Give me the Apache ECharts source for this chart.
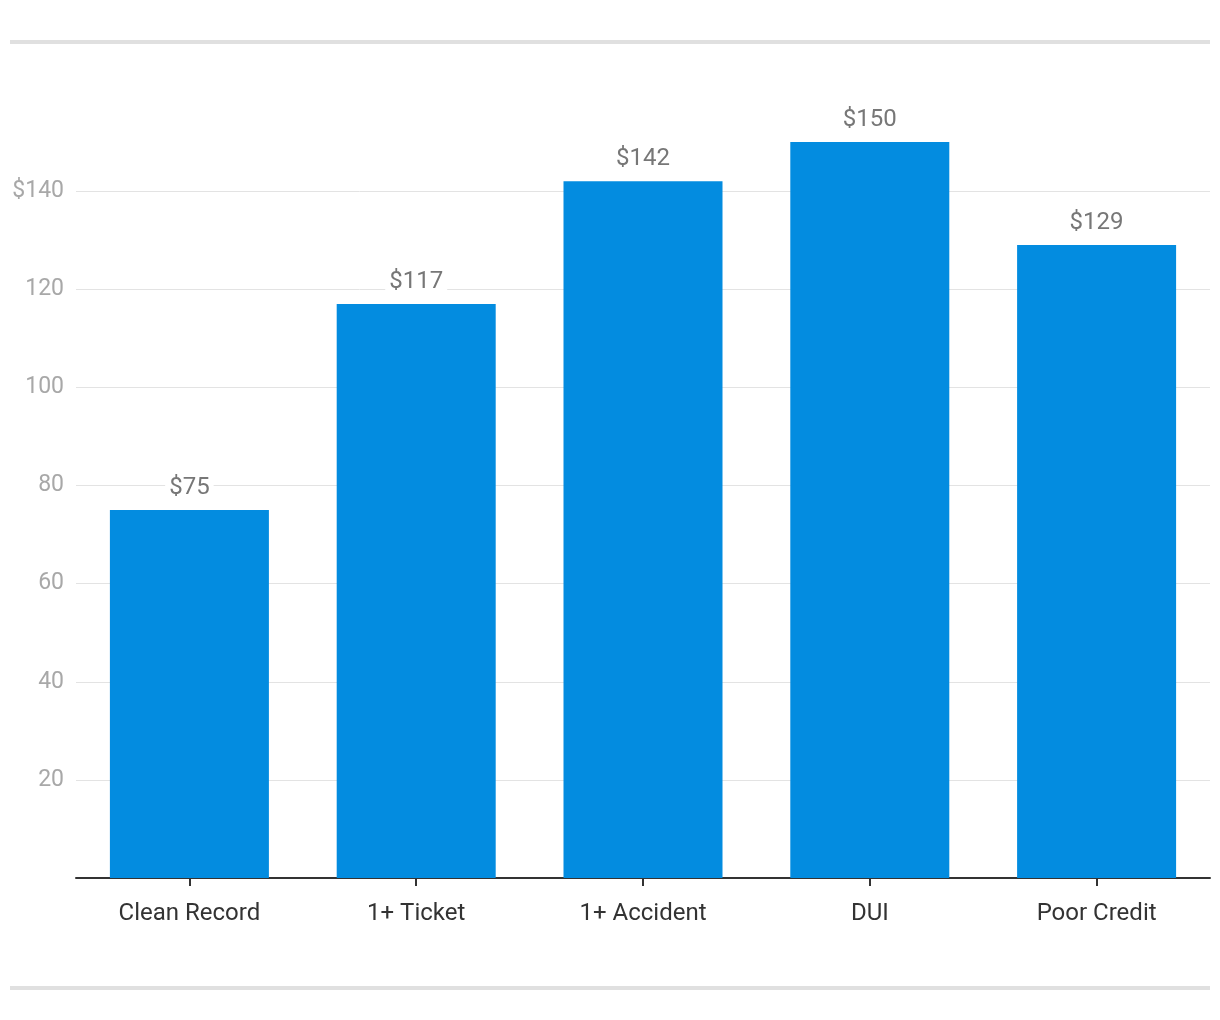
<!DOCTYPE html>
<html>
<head>
<meta charset="utf-8">
<script src="https://cdn.jsdelivr.net/npm/echarts@6/dist/echarts.min.js"></script>
<style>
  html, body { margin: 0; padding: 0; background: #fff; }
  #chart { width: 1220px; height: 1020px; }
</style>
</head>
<body>
<div id="chart"></div>
<script>
// data
var categories = ['Clean Record', '1+ Ticket', '1+ Accident', 'DUI', 'Poor Credit'];
var premiums = [75, 117, 142, 150, 129];

var chart = echarts.init(document.getElementById('chart'));

var gridColor = '#e3e3e3';
// last colour hides the split line at the axis max (160)
var splitColors = [gridColor, gridColor, gridColor, gridColor, gridColor, gridColor, gridColor, gridColor, 'rgba(0,0,0,0)'];

var option = {
    animation: false,
    textStyle: { fontFamily: 'Roboto' },
    grid: { left: 76, right: 10, top: 93, bottom: 142, containLabel: false },
    graphic: [
        { type: 'rect', shape: { x: 10, y: 40, width: 1200, height: 4 }, style: { fill: '#e0e0e0' } },
        { type: 'rect', shape: { x: 10, y: 986, width: 1200, height: 4 }, style: { fill: '#e0e0e0' } }
    ],
    xAxis: {
        type: 'category',
        data: categories,
        axisLine: { lineStyle: { color: '#333', width: 2 } },
        axisTick: { show: true, alignWithLabel: true, length: 8, lineStyle: { color: '#333', width: 2 } },
        axisLabel: { color: '#333', fontSize: 24, margin: 24, fontFamily: 'Roboto' }
    },
    yAxis: {
        type: 'value',
        min: 0,
        max: 160,
        interval: 20,
        axisLine: { show: false },
        axisTick: { show: false },
        splitLine: { lineStyle: { color: splitColors, width: 1 } },
        axisLabel: {
            color: '#a8a8a8',
            fontSize: 23,
            margin: 12,
            showMinLabel: false,
            showMaxLabel: false,
            fontFamily: 'Roboto',
            formatter: function (v) { return v === 140 ? '$' + v : String(v); }
        }
    },
    series: [{
        type: 'bar',
        data: premiums,
        barWidth: 159,
        itemStyle: { color: '#038ce0' },
        label: {
            show: true,
            position: 'top',
            distance: 10,
            color: '#777',
            fontSize: 24,
            fontFamily: 'Roboto',
            backgroundColor: '#fff',
            padding: [0, 4],
            formatter: function (p) { return '$' + p.value; }
        }
    }]
};

chart.setOption(option);
</script>
</body>
</html>
